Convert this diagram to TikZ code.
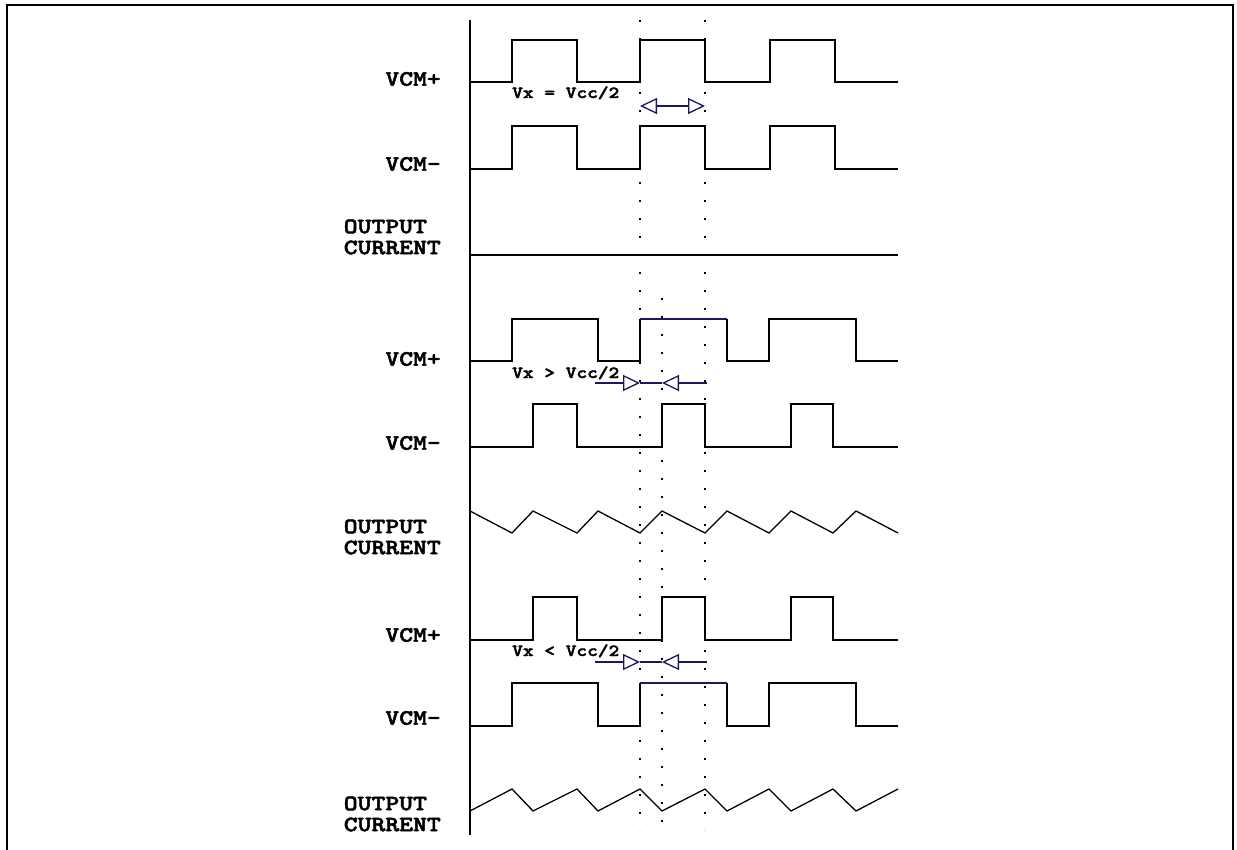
\documentclass[tikz,border=0pt]{standalone}
\usepackage{fontspec}
\newfontfamily\lblfont[Extension=.otf,FakeStretch=1.2,FakeBold=2.2]{lmmonolt10-bold}
\usetikzlibrary{arrows.meta}
\definecolor{waveblue}{RGB}{25,25,95}
\tikzset{
  sig/.style={line width=1.3pt,line join=miter},
  sigtop/.style={waveblue,line width=1.3pt},
  lbl/.style={anchor=east,align=left,inner sep=0pt,font=\lblfont\fontsize{22}{21}\selectfont},
  vxlbl/.style={anchor=base west,inner sep=0pt,font=\lblfont\fontsize{17}{17}\selectfont},
  timing/.style={line width=1.6pt,dash pattern=on 1.6pt off 16.4pt},
  vxtip/.tip={Triangle[open,length=17pt,width=16pt]},
  vxarrow/.style={waveblue,line width=1.3pt,-vxtip},
}
\begin{document}
\begin{tikzpicture}[x=1pt,y=-1pt]
            \useasboundingbox (0,0) rectangle (1237,850);
            % frame and time axis
            \draw[line width=2.3pt] (7,850) -- (7,5) -- (1233,5) -- (1233,850);
            \draw[line width=1.5pt] (470,20) -- (470,835);
            % timing marks
            \draw[timing] (640,20) -- (640,830);
            \draw[timing] (705,20) -- (705,830);
            \draw[timing] (662,298) -- (662,830);
            % labels
            \node[lbl] (vcmpA) at (441,79) {VCM+};
            \node[lbl] (vcmmA) at (441,164) {VCM-};
            \node[lbl] (outA) at (441,237) {OUTPUT\\CURRENT};
            \node[lbl] (vcmpB) at (441,359) {VCM+};
            \node[lbl] (vcmmB) at (441,443) {VCM-};
            \node[lbl] (outB) at (441,537) {OUTPUT\\CURRENT};
            \node[lbl] (vcmpC) at (441,635) {VCM+};
            \node[lbl] (vcmmC) at (441,718) {VCM-};
            \node[lbl] (outC) at (441,814) {OUTPUT\\CURRENT};
            % Vx = Vcc/2
            \draw[sig] (470,82) -- (512,82) -- (512,40) -- (577,40) -- (577,82) -- (640,82) -- (640,40) -- (705,40) -- (705,82) -- (770,82) -- (770,40) -- (835,40) -- (835,82) -- (898,82);
            \draw[sig] (470,169) -- (512,169) -- (512,126) -- (577,126) -- (577,169) -- (640,169) -- (640,126) -- (705,126) -- (705,169) -- (770,169) -- (770,126) -- (835,126) -- (835,169) -- (898,169);
            \draw[sig] (470,255) -- (898,255);
            \node[vxlbl] (vxA) at (512,98) {Vx = Vcc/2};
            \coordinate (eqL) at (640,106);
            \coordinate (eqR) at (705,106);
            \draw[vxarrow,vxtip-vxtip] (eqL) -- (eqR);
            % Vx > Vcc/2
            \draw[sig] (470,361) -- (512,361) -- (512,319) -- (598,319) -- (598,361) -- (640,361) -- (640,319);
            \draw[sigtop] (640,319) -- (727,319);
            \draw[sig] (727,319) -- (727,361) -- (769,361) -- (769,319) -- (856,319) -- (856,361) -- (898,361);
            \draw[sig] (470,447) -- (533,447) -- (533,404) -- (577,404) -- (577,447) -- (662,447) -- (662,404) -- (705,404) -- (705,447) -- (791,447) -- (791,404) -- (833,404) -- (833,447) -- (898,447);
            \draw[sig] (470,511) -- (512,533) -- (533,511) -- (577,533) -- (598,511) -- (640,533) -- (662,511) -- (705,533) -- (727,511) -- (769,533) -- (791,511) -- (833,533) -- (856,511) -- (898,533);
            \node[vxlbl] (vxB) at (512,378) {Vx > Vcc/2};
            \coordinate (gtS) at (595,383);
            \coordinate (gtL) at (640,383);
            \coordinate (gtM) at (662,383);
            \coordinate (gtE) at (707,383);
            \draw[vxarrow] (gtS) -- (gtL);
            \draw[vxarrow] (gtE) -- (gtM);
            \draw[sigtop] (gtL) -- (gtM);
            % Vx < Vcc/2
            \draw[sig] (470,640) -- (533,640) -- (533,597) -- (577,597) -- (577,640) -- (662,640) -- (662,597) -- (705,597) -- (705,640) -- (791,640) -- (791,597) -- (833,597) -- (833,640) -- (898,640);
            \draw[sig] (470,726) -- (512,726) -- (512,683) -- (598,683) -- (598,726) -- (640,726) -- (640,683);
            \draw[sigtop] (640,683) -- (727,683);
            \draw[sig] (727,683) -- (727,726) -- (769,726) -- (769,683) -- (856,683) -- (856,726) -- (898,726);
            \draw[sig] (470,811) -- (512,789) -- (533,811) -- (577,789) -- (598,811) -- (640,789) -- (662,811) -- (705,789) -- (727,811) -- (769,789) -- (791,811) -- (833,789) -- (856,811) -- (898,789);
            \node[vxlbl] (vxC) at (512,656) {Vx < Vcc/2};
            \coordinate (ltS) at (595,662);
            \coordinate (ltL) at (640,662);
            \coordinate (ltM) at (662,662);
            \coordinate (ltE) at (707,662);
            \draw[vxarrow] (ltS) -- (ltL);
            \draw[vxarrow] (ltE) -- (ltM);
            \draw[sigtop] (ltL) -- (ltM);
\end{tikzpicture}
\end{document}
